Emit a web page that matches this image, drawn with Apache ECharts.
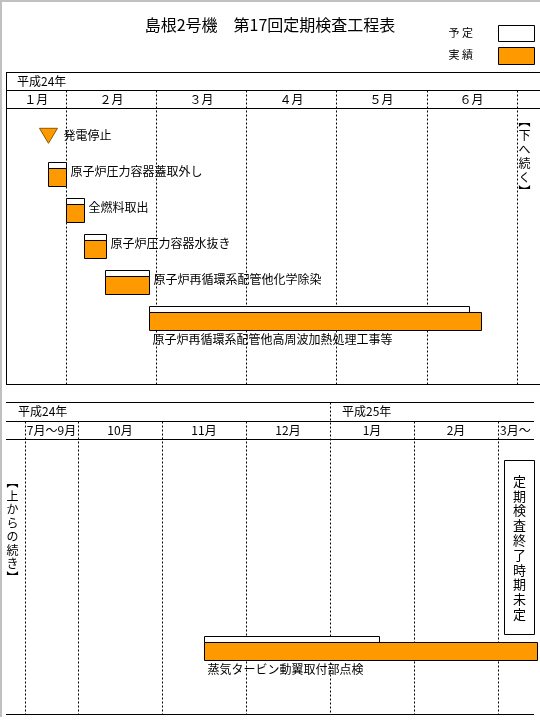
<!DOCTYPE html>
<html><head><meta charset="utf-8">
<script src="https://cdn.jsdelivr.net/npm/echarts@6/dist/echarts.min.js"></script>
<style>html,body{margin:0;padding:0;background:#fff;}#main{width:540px;height:720px;}</style>
</head><body><div id="main"></div>
<script>
// ---------------- data ----------------
const chartTitle = '島根2号機　第17回定期検査工程表';
const legendPlan = '予 定';
const legendActual = '実 績';

// Upper panel: 平成24年 (x unit = month; 2.0 = 2月1日)
const upperYear = '平成24年';
const upperMonthLabels = ['１月', '２月', '３月', '４月', '５月', '６月'];
const upperMonthStarts = [1, 2, 3, 4, 5, 6, 7];
const upperContinue = '︻下へ続く︼';
const milestoneName = '発電停止';
const milestoneAt = 1.80;
const upperTasks = ['原子炉圧力容器蓋取外し', '全燃料取出', '原子炉圧力容器水抜き', '原子炉再循環系配管他化学除染', '原子炉再循環系配管他高周波加熱処理工事等'];
const upperRows = [1, 2, 3, 4, 5];
const upperPlanStart = [1.80, 2.00, 2.20, 2.43, 2.92];
const upperPlanEnd = [2.00, 2.20, 2.435, 2.92, 6.47];
const upperActualStart = [1.80, 2.00, 2.20, 2.43, 2.92];
const upperActualEnd = [2.00, 2.20, 2.435, 2.92, 6.60];

// Lower panel: 平成24年7月〜平成25年3月〜 (x unit = month; 13 = 平成25年1月, 7〜9月 compressed)
const lowerYears = ['平成24年', '平成25年'];
const lowerYearStarts = [7, 13];
const lowerMonthLabels = ['7月～9月', '10月', '11月', '12月', '1月', '2月', '3月～'];
const lowerMonthStarts = [9.37, 10, 11, 12, 13, 14, 15];
const lowerContinue = '︻上からの続き︼';
const lowerTasks = ['蒸気タービン動翼取付部点検'];
const lowerRows = [5];
const lowerPlanStart = [11.50];
const lowerPlanEnd = [13.58];
const lowerActualStart = [11.50];
const lowerActualEnd = [15.47];
const endNote = '定期検査終了時期未定';

// ---------------- style ----------------
const FF = '"Noto Sans CJK JP","Noto Sans CJK SC",sans-serif';
const F = s => s + 'px ' + FF;
const ORANGE = '#FF9900';
const crisp = v => Math.round(v) + 0.5;

function barSeries(name, idx, starts, ends, rows, kind, labels) {
  return {
    type: 'custom', name, xAxisIndex: idx, yAxisIndex: idx, clip: false,
    encode: { x: [0, 1], y: 2 },
    data: starts.map((s, i) => [s, ends[i], rows[i]]),
    renderItem: (params, api) => {
      const a = api.coord([api.value(0), api.value(2)]);
      const b = api.coord([api.value(1), api.value(2)]);
      const x0 = crisp(a[0]), x1 = crisp(b[0]), cy = Math.round(a[1]);
      if (kind === 'plan') {
        return { type: 'rect', shape: { x: x0, y: cy - 12 + 0.5, width: x1 - x0, height: 6 },
          style: { fill: '#fff', stroke: '#000', lineWidth: 1 } };
      }
      const long = api.value(1) - api.value(0) > 1;
      return { type: 'group', children: [
        { type: 'rect', shape: { x: x0, y: cy - 6 + 0.5, width: x1 - x0, height: 18 },
          style: { fill: ORANGE, stroke: '#000', lineWidth: 1 } },
        { type: 'text', style: { text: labels[params.dataIndex],
          x: long ? x0 + 3 : x1 + 4, y: long ? cy + 21 : cy - 3,
          font: F(12), fill: '#000', textAlign: 'left', textVerticalAlign: 'middle', align: 'left', verticalAlign: 'middle' } }
      ] };
    }
  };
}

const chart = echarts.init(document.getElementById('main'), null, { renderer: 'canvas' });
chart.setOption({
  animation: false,
  backgroundColor: '#fff',
  title: { text: chartTitle, left: 'center', top: 12,
    textStyle: { fontSize: 16, fontWeight: 'normal', color: '#000', fontFamily: FF } },
  grid: [
    { left: 6, right: 0, top: 108, height: 276 },
    { left: 6, right: 0, top: 439, height: 275 }
  ],
  xAxis: [
    { type: 'value', gridIndex: 0, min: 1.328, max: 7.261, show: false },
    { type: 'value', gridIndex: 1, min: 9.143, max: 15.5, show: false }
  ],
  yAxis: [
    { type: 'value', gridIndex: 0, min: -0.842, max: 6.825, inverse: true, show: false },
    { type: 'value', gridIndex: 1, min: -0.814, max: 6.825, inverse: true, show: false }
  ],
  series: [
    barSeries('予定', 0, upperPlanStart, upperPlanEnd, upperRows, 'plan', upperTasks),
    barSeries('実績', 0, upperActualStart, upperActualEnd, upperRows, 'actual', upperTasks),
    barSeries('予定', 1, lowerPlanStart, lowerPlanEnd, lowerRows, 'plan', lowerTasks),
    barSeries('実績', 1, lowerActualStart, lowerActualEnd, lowerRows, 'actual', lowerTasks),
    {
      type: 'custom', name: milestoneName, xAxisIndex: 0, yAxisIndex: 0, clip: false,
      encode: { x: 0, y: 1 },
      data: [[milestoneAt, 0]],
      renderItem: (params, api) => {
        const p = api.coord([api.value(0), api.value(1)]);
        const cx = p[0], cy = p[1];
        return { type: 'group', children: [
          { type: 'polygon', shape: { points: [[cx - 9, cy - 10], [cx + 9, cy - 10], [cx, cy + 5]] },
            style: { fill: ORANGE, stroke: '#8B5A00', lineWidth: 1 } },
          { type: 'text', style: { text: milestoneName, x: cx + 15, y: cy - 2.5, font: F(12), fill: '#000',
            textAlign: 'left', textVerticalAlign: 'middle', align: 'left', verticalAlign: 'middle' } }
        ] };
      }
    }
  ]
});

// ---------------- frame, headers (positions from axis scales) ----------------
const X = (i, v) => chart.convertToPixel({ xAxisIndex: i }, v);
const g = [];
const line = (x1, y1, x2, y2, dash, color, w) => g.push({ type: 'line', silent: true,
  shape: { x1, y1, x2, y2 }, style: { stroke: color || '#000', lineWidth: w || 1, lineDash: dash ? [2, 2] : null } });
const text = (t, x, y, size, align, extra) => g.push({ type: 'text', silent: true,
  style: Object.assign({ text: t, x, y, font: F(size), fill: '#000', textAlign: align || 'left', textVerticalAlign: 'middle',
    align: align || 'left', verticalAlign: 'middle' }, extra || {}) });

// outer grey frame
line(1, 0, 1, 717, false, '#c0c0c0', 2);
line(0, 1, 540, 1, false, '#c0c0c0', 2);

// legend
text(legendPlan, 473, 33, 11, 'right');
g.push({ type: 'rect', shape: { x: 498.5, y: 25.5, width: 36, height: 16 }, style: { fill: '#fff', stroke: '#000', lineWidth: 1 } });
text(legendActual, 473, 55, 11, 'right');
g.push({ type: 'rect', shape: { x: 498.5, y: 47.5, width: 36, height: 17 }, style: { fill: ORANGE, stroke: '#000', lineWidth: 1 } });

// upper panel
const U = { top: 72.5, mid: 90.5, hdr: 108.5, bot: 384.5, left: 6.5, right: 540 };
[U.top, U.mid, U.hdr, U.bot].forEach(y => line(U.left - 0.5, y, U.right, y));
line(U.left, U.top, U.left, U.bot);
text(upperYear, 17, 81, 12);
const uMin = 1.328;
upperMonthStarts.slice(1).forEach(v => { const x = crisp(X(0, v)); line(x, U.mid, x, U.bot, true); });
upperMonthLabels.forEach((m, i) => {
  const a = X(0, Math.max(upperMonthStarts[i], uMin)), b = X(0, upperMonthStarts[i + 1]);
  text(m, (a + b) / 2, 99.5, 12, 'center');
});
text(upperContinue.split('').join('\n'), X(0, 7) + 8, 156, 12, 'center', { lineHeight: 14 });

// lower panel
const L = { top: 402.5, mid: 421.5, hdr: 439.5, bot: 714.5, left: 6, right: 534 };
[L.top, L.mid, L.hdr, L.bot].forEach(y => line(L.left, y, L.right, y));
const lMin = 9.143;
lowerYears.forEach((y, i) => text(y, X(1, Math.max(lowerYearStarts[i], lMin)) + 12, 411.5, 12));
lowerMonthStarts.forEach(v => {
  const x = crisp(X(1, v));
  line(x, lowerYearStarts.includes(v) ? L.top : L.mid, x, L.bot, true);
});
lowerMonthLabels.forEach((m, i) => {
  const a = X(1, lowerMonthStarts[i]);
  if (i === lowerMonthLabels.length - 1) { text(m, a + 2, 430.5, 12, 'left'); return; }
  const b = X(1, lowerMonthStarts[i + 1]);
  text(m, (a + b) / 2, 430.5, 12, 'center');
});
text(lowerContinue.split('').join('\n'), 12.5, 530, 12, 'center', { lineHeight: 13.5 });

// end-of-inspection note
g.push({ type: 'rect', shape: { x: 504.5, y: 460.5, width: 30, height: 174 }, style: { fill: '#fff', stroke: '#000', lineWidth: 1 } });
text(endNote.split('').join('\n'), 519.5, 547.5, 13, 'center', { lineHeight: 14.8 });

chart.setOption({ graphic: g });
</script></body></html>
